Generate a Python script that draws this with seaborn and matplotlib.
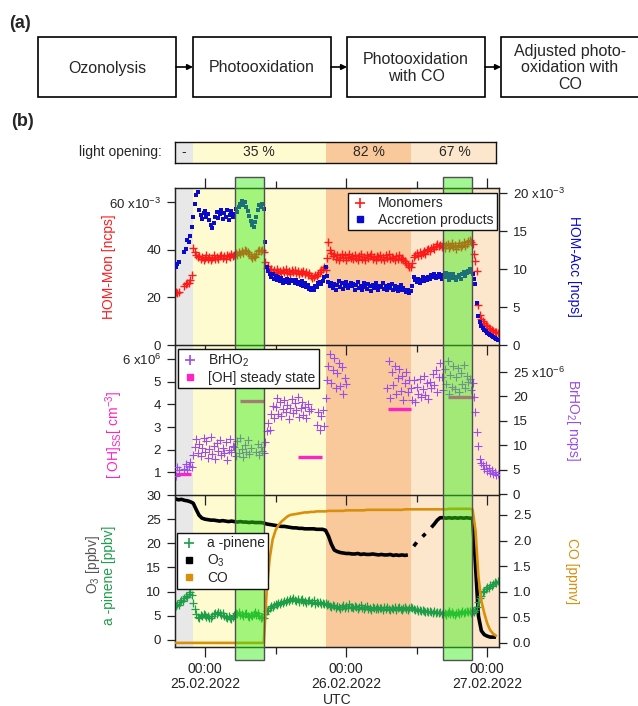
import numpy as np
import pandas as pd
import matplotlib
matplotlib.use("Agg")
import matplotlib.pyplot as plt
import matplotlib.dates as mdates
import matplotlib.transforms as mtransforms
from matplotlib.patches import Rectangle
from matplotlib.lines import Line2D
import seaborn as sns

# =========================
# Setup
# =========================
sns.set_style("ticks")
plt.rcParams["font.family"] = ["Liberation Sans", "DejaVu Sans"]
plt.rcParams["font.size"] = 10
plt.rcParams["mathtext.fontset"] = "custom"
plt.rcParams["mathtext.rm"] = "Liberation Sans"
plt.rcParams["mathtext.it"] = "Liberation Sans:italic"
plt.rcParams["mathtext.bf"] = "Liberation Sans:bold"

W, H = 638, 706
T0 = pd.Timestamp("2022-02-25 00:00")

# =========================
# DATA (hours relative to 25.02.2022 00:00 UTC)
# =========================
nan = np.nan
hours_fine = np.arange(-5.0, 50.0, 0.25)   # scatter series, every 15 min
hours = np.arange(-5.0, 50.0, 0.5)         # line series, every 30 min

# HOM monomers [x1e-3 ncps]
monomers = [
    22.3, 21.9, 22.5, nan, nan, nan, 24.8, 25.6, 26.2, 25.9, 27.4, 29.3, 40.8, 39.2, 38.1, 36.9, 37.6, 36.2, 37.1, 35.9,
    36.8, 37.9, 36.1, 37.0, 35.8, 36.6, 37.7, 36.3, 37.2, 36.0, 37.4, 38.1, 36.7, 37.5, 36.4, 38.0, 37.3, 36.9, 38.2, 37.6,
    37.8, 38.6, 37.9, 39.0, 38.5, 39.6, 38.8, 40.1, 39.7, 39.2, 38.4, 37.5, 36.8, 37.3, 36.9, 38.2, 39.4, 40.2, 39.6, 40.0,
    39.1, 35.0, 32.4, 33.1, 31.5, 32.2, 30.8, 31.6, 30.5, 31.9, 30.9, 31.3, 30.2, 31.5, 30.7, 31.8, 30.4, 31.0, 30.1, 31.4,
    30.6, 31.7, 30.3, 31.1, 29.9, 30.8, 30.2, 31.3, 30.0, 30.7, 29.6, 30.4, 28.9, 28.3, 28.7, 29.5, 29.0, 30.1, 30.6, 31.4,
    31.9, 32.8, 31.7, 36.5, 43.5, 40.2, 38.6, 37.4, 38.5, 36.3, 37.8, 35.9, 37.2, 38.4, 36.5, 37.7, 35.8, 37.0, 38.2, 36.6,
    37.5, 36.1, 38.0, 36.8, 35.7, 37.3, 38.3, 36.4, 37.1, 35.9, 37.9, 36.5, 37.6, 38.4, 36.2, 37.0, 35.6, 37.4, 36.9, 38.1,
    36.3, 37.2, 35.8, 37.8, 36.6, 38.2, 36.0, 37.1, 36.7, 35.6, 37.3, 36.4, 37.9, 36.1, 36.8, 35.7, 35.2, 34.6, 33.5, 33.0,
    32.8, 34.5, 37.2, 38.0, 38.9, 37.6, 39.2, 38.1, 38.8, 39.5, 38.4, 39.9, 40.4, 39.6, 40.8, 41.3, 40.6, 41.8, 42.5, 41.7,
    42.3, 41.1, 42.8, 40.7, 41.9, 42.6, 40.9, 41.5, 43.0, 41.2, 42.1, 40.6, 41.8, 42.9, 41.4, 42.2, 43.4, 41.6, 42.7, 43.8,
    44.0, 43.5, 42.6, 38.5, 35.5, 31.0, 17.0, 12.5, 11.0, 10.0, 9.2, 8.4, 7.8, 7.3, 6.8, 6.4, 5.8, 5.6, 5.4, 5.2,
]
# HOM accretion products [x1e-3 ncps]
accretion = [
    10.3, 10.6, 10.9, nan, nan, nan, 12.2, 12.6, 13.8, 13.5, 14.3, 15.5, 16.8, 18.5, 19.8, 20.1, 17.8, 17.1, 16.6, 17.4,
    17.6, 16.8, 17.3, 16.5, 15.8, 15.4, 16.1, 16.9, 17.5, 16.7, 17.2, 17.8, 16.6, 17.4, 16.9, 17.7, 16.4, 17.1, 17.6, 16.8,
    17.3, 17.9, 17.5, 18.2, 18.6, 18.9, 18.4, 18.8, 18.1, 17.6, 17.0, 16.3, 15.8, 15.5, 16.2, 16.9, 17.8, 18.4, 18.1, 18.6,
    17.9, 13.5, 10.3, 9.8, 9.4, 9.0, 9.3, 8.7, 9.1, 8.5, 8.9, 8.4, 8.8, 8.2, 8.6, 8.3, 8.7, 8.1, 8.5, 8.4,
    8.6, 8.2, 8.5, 8.0, 8.3, 7.9, 8.4, 7.8, 8.1, 7.6, 7.9, 7.4, 7.2, 7.5, 7.3, 7.8, 7.6, 8.1, 8.3, 8.0,
    8.4, 8.9, 10.2, 9.1, 8.3, 7.7, 8.2, 7.5, 8.0, 7.3, 7.9, 8.4, 7.6, 8.1, 7.4, 7.8, 8.3, 7.5, 7.9, 8.2,
    7.7, 8.0, 7.3, 7.9, 8.3, 7.5, 7.8, 7.2, 8.1, 7.6, 7.4, 8.0, 7.7, 7.1, 7.9, 7.5, 8.2, 7.6, 7.3, 7.8,
    7.6, 8.1, 7.4, 7.8, 7.2, 7.9, 7.5, 8.0, 7.3, 7.7, 7.4, 7.1, 7.6, 7.9, 7.3, 7.5, 7.2, 7.0, 7.3, 6.9,
    7.1, 7.8, 8.9, 8.6, 8.3, 8.7, 8.1, 8.5, 8.9, 8.4, 8.8, 8.6, 9.0, 8.7, 9.2, 8.9, 9.3, 8.8, 9.1, 9.4,
    9.0, 8.7, 9.2, 8.9, 9.5, 9.1, 8.6, 9.3, 8.8, 9.4, 9.0, 8.5, 8.9, 9.2, 8.7, 9.3, 9.6, 9.1, 9.5, 9.8,
    10.0, 9.6, 9.3, 8.7, 8.0, 5.5, 3.8, 3.0, 2.5, 2.3, 2.0, 1.8, 1.6, 1.4, 1.3, 1.2, 1.0, 0.9, 0.8, 0.7,
]
# BrHO2 [x1e-6 ncps]
brho2 = [
    3.6, 5.5, 4.9, nan, nan, nan, 5.1, 6.2, 4.9, 5.8, 6.6, 5.5, 7.9, 9.6, 11.2, 8.4, 10.3, 7.8, 9.5, 11.4,
    8.6, 10.9, 7.4, 9.3, 11.6, 8.1, 9.8, 7.2, 10.4, 8.8, 11.1, 7.9, 9.5, 8.3, 10.7, 7.0, 9.1, 11.3, 8.5, 9.9,
    9.6, 7.7, 10.8, 8.4, 11.4, 9.2, 7.5, 10.1, 8.7, 11.0, 8.1, 9.4, nan, nan, nan, 8.6, 10.3, 7.9, 9.7, 8.9,
    8.4, 10.6, 12.8, 14.5, 13.2, 16.4, 18.1, 15.6, 17.8, 19.6, 16.3, 18.9, 15.9, 17.4, 19.2, 16.8, 18.3, 15.4, 17.7, 19.4,
    16.5, 18.6, 17.1, 19.8, 15.8, 17.6, 18.9, 16.2, 17.9, 15.5, 18.4, 16.9, 17.5, nan, nan, nan, 14.2, 16.8, 13.1, 15.9,
    17.2, 14.0, 19.6, 23.4, 26.1, 28.6, 22.8, 25.3, 27.9, 21.6, 24.7, 26.8, 22.1, 25.9, 20.4, 23.8, 22.6, nan, nan, nan,
    nan, nan, nan, nan, nan, nan, nan, nan, nan, nan, nan, nan, nan, nan, nan, nan, nan, nan, nan, nan,
    nan, nan, nan, nan, 21.8, 27.2, 19.6, 24.9, 22.3, 26.1, 20.4, 23.7, 25.5, 21.1, 24.2, 19.3, 22.8, 25.0, 20.9, 23.3,
    21.6, 19.2, 23.4, 18.9, 22.0, 20.5, 23.6, 19.8, 21.4, 24.1, 20.2, 22.7, 19.5, 23.0, 21.8, 24.6, 22.3, 25.4, 20.9, 23.9,
    26.8, 24.0, 21.2, 25.5, 22.6, 27.3, 20.5, 24.4, 22.0, 26.2, 21.4, 23.9, 25.8, 20.8, 24.7, 22.5, 26.5, 21.7, 24.1, 22.9,
    23.5, 21.2, 22.8, 19.9, 16.8, 12.6, 9.8, 7.1, 6.4, 5.9, 5.2, 6.0, 4.8, 5.3, 4.4, 4.9, 4.1, 4.6, 3.8, 4.2,
]
# a-pinene [ppbv]
apinene = [
    7.0, 7.5, 7.3, 7.9, 8.2, 8.0, 8.7, 9.1, 8.8, 9.6, 9.9, 9.3, 7.6, 6.4, 5.3, 4.8, 4.6, 5.1, 4.9, 5.3,
    5.2, 4.8, 5.0, 4.6, 4.5, 4.9, 5.3, 5.6, 5.4, 5.7, 5.5, 5.2, 5.6, 5.0, 4.8, 4.6, 4.9, 4.5, 4.4, 4.7,
    5.2, 5.6, 5.3, 5.7, 5.1, 5.4, 4.9, 5.3, 5.6, 5.0, 4.8, 5.2, 4.9, 5.4, 5.7, 5.1, 5.5, 4.9, 4.6, 4.8,
    4.5, 5.3, 5.9, 6.3, 6.6, 7.0, 6.8, 7.3, 7.5, 7.2, 7.7, 7.4, 7.9, 7.6, 8.1, 7.8, 8.3, 8.0, 8.5, 8.2,
    8.7, 8.3, 8.0, 8.4, 7.9, 8.2, 8.5, 7.8, 8.1, 7.7, 8.0, 8.3, 7.6, 7.9, 8.2, 7.5, 7.8, 7.6, 7.9, 7.4,
    7.7, 7.4, 7.6, 7.2, 7.5, 7.1, 6.9, 7.3, 7.0, 6.7, 7.1, 6.8, 6.5, 6.9, 7.2, 6.6, 7.0, 6.7, 7.4, 6.8,
    6.9, 6.6, 7.1, 6.8, 6.5, 6.9, 7.2, 6.6, 6.4, 6.8, 7.0, 6.5, 6.7, 6.3, 6.9, 6.6, 6.4, 6.8, 6.5, 6.7,
    6.6, 6.3, 6.8, 6.5, 6.9, 6.4, 6.2, 6.7, 6.5, 6.8, 6.3, 6.6, 6.9, 6.4, 6.2, 6.6, 6.8, 6.5, 6.3, 6.7,
    6.9, 6.6, 6.4, 6.2, 6.5, 6.1, 6.3, 5.9, 6.2, 6.0, 5.8, 6.1, 5.7, 6.0, 5.8, 5.5, 5.9, 5.6, 5.8, 5.5,
    5.7, 5.4, 5.8, 5.5, 5.2, 5.6, 5.9, 5.3, 5.7, 5.4, 5.1, 5.5, 5.8, 5.3, 5.6, 5.9, 5.5, 5.8, 6.0, 5.7,
    5.9, 5.6, 6.0, 5.8, 6.3, 6.9, 7.8, 8.7, 9.2, 9.9, 10.2, 10.6, 11.0, 10.8, 11.4, 11.1, 11.6, 12.0, 11.7, 12.3,
]
# O3 [ppbv]
o3 = [
    29.2, 29.0, 29.1, 28.9, 28.8, 28.6, 28.3, 27.0, 25.8, 25.2,
    25.0, 24.9, 24.8, 24.8, 24.7, 24.6, 24.7, 24.6, 24.5, 24.6,
    24.5, 24.4, 24.5, 24.4, 24.4, 24.3, 24.4, 24.3, 24.3, 24.3,
    24.2, 24.0, 23.9, 23.8, 23.7, 23.6, 23.5, 23.5, 23.4, 23.3,
    23.2, 23.2, 23.1, 23.1, 23.0, 23.0, 23.0, 23.0, 22.9, 22.9,
    22.9, 22.7, 21.5, 19.8, 18.6, 18.3, 18.1, 18.0, 17.9, 17.9,
    17.8, 17.8, 17.9, 17.7, 17.8, 17.7, 17.7, 17.8, 17.7, 17.6,
    17.7, 17.6, 17.6, 17.7, 17.5, 17.6, 17.5, 17.6, 17.5, 17.6,
    nan, 19.4, 20.2, nan, 21.4, 22.0, nan, 23.3, 24.0, 24.8,
    25.3, 25.3, 25.2, 25.3, 25.2, 25.3, 25.2, 25.3, 25.2, 25.3,
    25.2, 25.2, 15.5, 5.0, 1.9, 1.1, 0.8, 0.6, 0.6, 0.6,
]
# CO [ppmv]
co = [
    0.0, 0.0, 0.0, 0.0, 0.0, 0.0, 0.0, 0.0, 0.0, 0.0,
    0.0, 0.0, 0.0, 0.0, 0.0, 0.0, 0.0, 0.0, 0.0, 0.0,
    0.0, 0.0, 0.0, 0.0, 0.0, 0.0, 0.0, 0.0, 0.0, 0.0,
    0.0, 1.03, 1.65, 2.02, 2.2, 2.3, 2.37, 2.42, 2.47, 2.5,
    2.51, 2.52, 2.53, 2.54, 2.55, 2.55, 2.56, 2.56, 2.57, 2.57,
    2.57, 2.57, 2.58, 2.58, 2.58, 2.58, 2.58, 2.58, 2.59, 2.59,
    2.59, 2.59, 2.59, 2.59, 2.59, 2.6, 2.6, 2.6, 2.6, 2.6,
    2.6, 2.6, 2.6, 2.6, 2.6, 2.6, 2.6, 2.6, 2.61, 2.61,
    2.61, 2.61, 2.61, 2.61, 2.61, 2.61, 2.61, 2.61, 2.61, 2.61,
    2.61, 2.61, 2.61, 2.62, 2.62, 2.62, 2.62, 2.62, 2.62, 2.62,
    2.62, 2.61, 2.2, 1.3, 0.82, 0.58, 0.38, 0.25, 0.18, 0.14,
]

# [OH] steady state [x1e6 cm-3], one value per period
oh_start_h = [-5.1, 6.0, 15.8, 31.1, 41.4]
oh_end_h = [-2.4, 10.0, 19.9, 35.1, 45.6]
oh_ss = [0.93, 4.16, 1.69, 3.81, 4.34]

# experiment phases / light opening
phase_edges_h = [-5.1, -2.1, 20.6, 35.1, 50.0]
phase_colors = ["#e8e8e8", "#fffbd0", "#fac99b", "#fde7cc"]
light_labels = ["-", "35 %", "82 %", "67 %"]

# green marked periods
green_start_h = [5.1, 40.5]
green_end_h = [10.0, 45.4]

stage_labels = ["Ozonolysis", "Photooxidation", "Photooxidation\nwith CO",
                "Adjusted photo-\noxidation with\nCO"]

# colours
C_MON = "#ff1a1a"
C_ACC = "#0a0acc"
C_OH = "#ff22c4"
C_BR = "#9a4de8"
C_PIN = "#1f9e4a"
C_CO = "#d8900c"


def to_time(h):
    return T0 + pd.to_timedelta(h, unit="h")


def fig_rect(x0, y0, x1, y1):
    return [x0 / W, 1 - y1 / H, (x1 - x0) / W, (y1 - y0) / H]


times = to_time(hours)
times_fine = to_time(hours_fine)

# =========================
# FIGURE
# =========================
fig = plt.figure(figsize=(W / 100, H / 100), dpi=100)

ax_page = fig.add_axes([0, 0, 1, 1], zorder=-5)
ax_page.set_xlim(0, W)
ax_page.set_ylim(H, 0)
ax_page.axis("off")

ax_bot = fig.add_axes(fig_rect(175, 495, 499, 647))
tw_bot = ax_bot.twinx()
ax_mid = fig.add_axes(fig_rect(175, 345, 499, 495), sharex=ax_bot)
tw_mid = ax_mid.twinx()
ax_top = fig.add_axes(fig_rect(175, 188, 499, 345), sharex=ax_bot)
tw_top = ax_top.twinx()

hosts = [ax_top, ax_mid, ax_bot]
twins = [tw_top, tw_mid, tw_bot]

for ax in hosts:
    for i, c in enumerate(phase_colors):
        ax.axvspan(to_time(phase_edges_h[i]), to_time(phase_edges_h[i + 1]),
                   color=c, lw=0, zorder=0)

# --- top: HOM
sns.scatterplot(x=times_fine, y=monomers, ax=ax_top, marker="+", color=C_MON,
                s=28, linewidth=1.0, legend=False, zorder=3)
sns.scatterplot(x=times_fine, y=accretion, ax=tw_top, marker="s", color=C_ACC,
                s=8, linewidth=0, legend=False, zorder=3)

# --- middle: OH / BrHO2
ax_mid.hlines(oh_ss, to_time(oh_start_h), to_time(oh_end_h), color=C_OH,
              lw=2.4, zorder=3)
sns.scatterplot(x=times_fine, y=brho2, ax=tw_mid, marker="+", color=C_BR,
                s=26, linewidth=0.8, legend=False, zorder=3)

# --- bottom: O3, a-pinene, CO
ax_bot.plot(times, o3, color="k", lw=2.6, solid_capstyle="butt", zorder=3)
sns.scatterplot(x=times_fine, y=apinene, ax=ax_bot, marker="+", color=C_PIN,
                s=26, linewidth=0.9, legend=False, zorder=4)
tw_bot.plot(times, co, color=C_CO, lw=1.9, zorder=3)

# =========================
# AXES
# =========================
ax_bot.set_xlim(to_time(-5.1), to_time(50.0))
ax_top.set_ylim(0, 66.1)
tw_top.set_ylim(0, 20.66)
ax_mid.set_ylim(0, 6.62)
tw_mid.set_ylim(-0.2, 30.5)
ax_bot.set_ylim(-1.45, 30)
tw_bot.set_ylim(-0.08, 2.89)

ax_top.set_yticks([0, 20, 40, 60], ["0", "20", "40", "60 x10$^{-3}$"])
tw_top.set_yticks([0, 5, 10, 15, 20], ["0", "5", "10", "15", "20 x10$^{-3}$"])
ax_mid.set_yticks([1, 2, 3, 4, 5, 6], ["1", "2", "3", "4", "5", "6 x10$^{6}$"])
tw_mid.set_yticks([0, 5, 10, 15, 20, 25],
                  ["0", "5", "10", "15", "20", "25 x10$^{-6}$"])
ax_bot.set_yticks([0, 5, 10, 15, 20, 25, 30])
tw_bot.set_yticks([0, 0.5, 1.0, 1.5, 2.0, 2.5],
                  ["0.0", "0.5", "1.0", "1.5", "2.0", "2.5"])

ax_bot.xaxis.set_major_locator(mdates.DayLocator())
ax_bot.xaxis.set_minor_locator(mdates.HourLocator(byhour=[12]))
ax_bot.xaxis.set_major_formatter(mdates.DateFormatter("%H:%M\n%d.%m.%Y"))

for ax in hosts + twins:
    ax.set_xlabel("")
    ax.set_ylabel("")
    for sp in ax.spines.values():
        sp.set_color("#222222")
        sp.set_linewidth(0.9)
    ax.spines["top"].set_visible(ax is ax_top or ax is tw_top)
    ax.tick_params(axis="y", direction="out", length=6, width=0.9,
                   labelsize=9.5, pad=4, colors="#222222")

for ax in hosts:
    ax.tick_params(axis="x", which="both", direction="out", bottom=True,
                   top=(ax is ax_top), labelbottom=(ax is ax_bot),
                   labeltop=False, width=0.9, colors="#222222", labelsize=10)
    ax.tick_params(axis="x", which="major", length=7)
    ax.tick_params(axis="x", which="minor", length=5)

ax_bot.set_xlabel("UTC", fontsize=10, labelpad=1)
for lab in ax_bot.get_xticklabels():
    lab.set_linespacing(1.15)

# axis titles
ax_top.text(-0.204, 0.5, "HOM-Mon [ncps]", color=C_MON, rotation=90,
            transform=ax_top.transAxes, ha="center", va="center")
tw_top.text(1.231, 0.5, "HOM-Acc [ncps]", color=C_ACC, rotation=270,
            transform=tw_top.transAxes, ha="center", va="center")
ax_mid.text(-0.188, 0.40, "[ OH]$_\\mathrm{SS}$[ cm$^{-3}$]", color=C_OH,
            rotation=90, transform=ax_mid.transAxes, ha="center", va="center")
tw_mid.text(1.228, 0.5, "BrHO$_2$[ ncps]", color=C_BR, rotation=270,
            transform=tw_mid.transAxes, ha="center", va="center")
ax_bot.text(-0.253, 0.546, "O$_3$ [ppbv]", color="#555555", rotation=90,
            transform=ax_bot.transAxes, ha="center", va="center")
ax_bot.text(-0.204, 0.474, "a -pinene [ppbv]", color=C_PIN, rotation=90,
            transform=ax_bot.transAxes, ha="center", va="center")
tw_bot.text(1.225, 0.5, "CO [ppmv]", color=C_CO, rotation=270,
            transform=tw_bot.transAxes, ha="center", va="center")

# =========================
# GREEN PERIODS (span all panels, drawn over data)
# =========================
blend = mtransforms.blended_transform_factory(ax_bot.transData, ax_page.transData)
for a, b in zip(green_start_h, green_end_h):
    x0 = mdates.date2num(to_time(a))
    x1 = mdates.date2num(to_time(b))
    fig.add_artist(Rectangle((x0, 177), x1 - x0, 660 - 177, transform=blend,
                             facecolor=(0.2, 0.93, 0.07, 0.45),
                             edgecolor="#505050", lw=1.0, zorder=2))

# =========================
# LEGENDS
# =========================
leg_kw = dict(frameon=True, fancybox=False, framealpha=1, edgecolor="#111111",
              fontsize=10, borderpad=0.25, labelspacing=0.15,
              handlelength=1.2, handletextpad=0.7, borderaxespad=0)

h_top = [Line2D([], [], ls="none", marker="+", color=C_MON, ms=7, mew=1.2),
         Line2D([], [], ls="none", marker="s", color=C_ACC, ms=5)]
lg = fig.legend(h_top, ["Monomers", "Accretion products"], loc="upper right",
                bbox_to_anchor=(497 / W, 1 - 193 / H), **leg_kw)
lg.set_zorder(6)

h_mid = [Line2D([], [], ls="none", marker="+", color=C_BR, ms=7, mew=1.2),
         Line2D([], [], ls="none", marker="s", color=C_OH, ms=5)]
lg = fig.legend(h_mid, ["BrHO$_2$", "[OH] steady state"], loc="upper left",
                bbox_to_anchor=(178 / W, 1 - 349 / H), **leg_kw)
lg.set_zorder(6)

h_bot = [Line2D([], [], ls="none", marker="+", color=C_PIN, ms=7, mew=1.2),
         Line2D([], [], ls="none", marker="s", color="k", ms=5),
         Line2D([], [], ls="none", marker="s", color=C_CO, ms=5)]
lg = fig.legend(h_bot, ["a -pinene", "O$_3$", "CO"], loc="upper left",
                bbox_to_anchor=(177 / W, 1 - 533 / H), **leg_kw)
lg.set_zorder(6)

# =========================
# LIGHT OPENING BAR
# =========================
ax_light = fig.add_axes(fig_rect(175, 142, 496, 163))
for i, c in enumerate(phase_colors):
    ax_light.axvspan(to_time(phase_edges_h[i]), to_time(phase_edges_h[i + 1]),
                     color=c, lw=0)
    mid_h = 0.5 * (phase_edges_h[i] + phase_edges_h[i + 1])
    ax_light.text(mdates.date2num(to_time(mid_h)), 0.5, light_labels[i],
                  transform=ax_light.get_xaxis_transform(),
                  ha="center", va="center", fontsize=10)
ax_light.set_xlim(to_time(-5.1), to_time(49.5))
ax_light.set_xticks([])
ax_light.set_yticks([])
for sp in ax_light.spines.values():
    sp.set_color("#111111")
    sp.set_linewidth(1.0)

ax_page.text(162, 152, "light opening:", ha="right", va="center", fontsize=10)

# =========================
# PANEL (a): flow of experiment stages
# =========================
box_left = [38, 193, 347, 501]
box_w = [138, 138, 138, 150]
box_top, box_h = 37, 60
for i, lab in enumerate(stage_labels):
    ax_page.add_patch(Rectangle((box_left[i], box_top), box_w[i], box_h,
                                facecolor="white", edgecolor="k", lw=1.2))
    ax_page.text(box_left[i] + 69, box_top + box_h / 2 + 1, lab, ha="center",
                 va="center", fontsize=11.5, linespacing=1.15)
    if i > 0:
        ax_page.annotate("", xy=(box_left[i], box_top + box_h / 2),
                         xytext=(box_left[i - 1] + box_w[i - 1], box_top + box_h / 2),
                         arrowprops=dict(arrowstyle="-|>", color="k", lw=1.2,
                                         shrinkA=0, shrinkB=0, mutation_scale=8))

ax_page.text(20, 24, "(a)", fontsize=13, fontweight="bold", ha="center", va="center")
ax_page.text(22, 122, "(b)", fontsize=13, fontweight="bold", ha="center", va="center")

fig.savefig("out.png", dpi=100)
